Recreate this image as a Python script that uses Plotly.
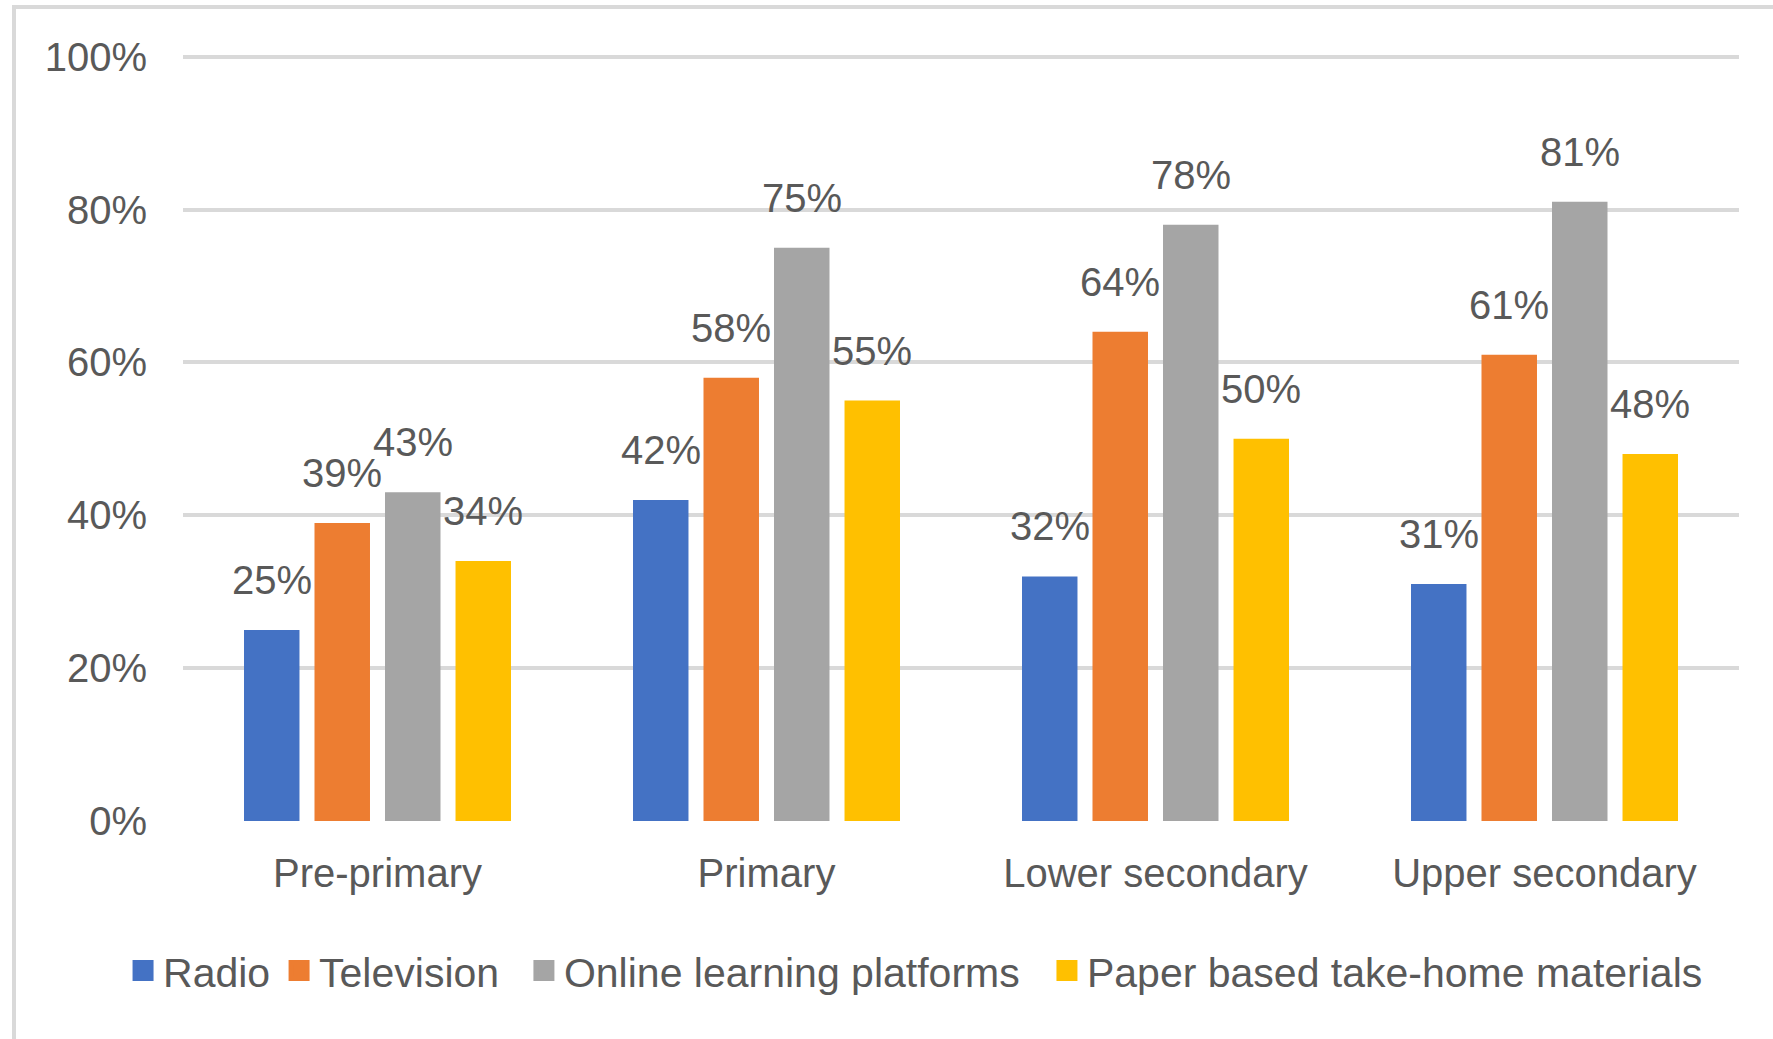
import plotly.graph_objects as go

# Share of countries using each remote-learning channel, by education level
levels = ["Pre-primary", "Primary", "Lower secondary", "Upper secondary"]
series_names = ["Radio", "Television", "Online learning platforms",
                "Paper based take-home materials"]
radio = [25, 42, 32, 31]
television = [39, 58, 64, 61]
online = [43, 75, 78, 81]
paper = [34, 55, 50, 48]
y_tick_values = [0, 20, 40, 60, 80, 100]
y_tick_labels = ["0%", "20%", "40%", "60%", "80%", "100%"]

series_values = [radio, television, online, paper]
colors = ["#4472C4", "#ED7D31", "#A5A5A5", "#FFC000"]

FONT = "Liberation Sans, Arial, sans-serif"
TEXT_COLOR = "#595959"
GRID_COLOR = "#D9D9D9"
FONT_SIZE = 40
LEGEND_FONT_SIZE = 41
BARGAP = 0.275
BARGROUPGAP = 0.213
# left edge (fraction of figure width) of each legend entry along the bottom row
LEGEND_X = [0.0694, 0.1574, 0.2955, 0.5905]

fig = go.Figure()

for name, vals, col in zip(series_names, series_values, colors):
    fig.add_trace(go.Bar(
        x=levels, y=vals, name=name, marker=dict(color=col, line=dict(width=0)),
        showlegend=False, hoverinfo="skip",
    ))

# legend entries with larger square swatches, one legend box per entry
legend_ids = ["legend", "legend2", "legend3", "legend4"]
for name, col, lid in zip(series_names, colors, legend_ids):
    fig.add_trace(go.Scatter(
        x=[None], y=[None], mode="markers", name=name, legend=lid,
        marker=dict(symbol="square", size=16, color=col,
                    line=dict(color=col, width=5)),
        showlegend=True,
    ))

# value labels above each bar
n_series = len(series_values)
slot = (1 - BARGAP) / n_series
annotations = []
for k, vals in enumerate(series_values):
    for i, v in enumerate(vals):
        annotations.append(dict(
            x=i + (k - (n_series - 1) / 2) * slot, y=v, xref="x", yref="y",
            text=f"{v}%", showarrow=False, yanchor="bottom", xanchor="center",
            yshift=26, font=dict(family=FONT, size=FONT_SIZE, color=TEXT_COLOR),
        ))

legend_style = dict(
    orientation="h", xref="container", yref="container",
    y=0.0655, xanchor="left", yanchor="middle",
    font=dict(family=FONT, size=LEGEND_FONT_SIZE, color=TEXT_COLOR),
    bgcolor="rgba(0,0,0,0)",
)

fig.update_layout(
    width=1773, height=1039,
    margin=dict(l=183, r=34, t=49, b=218),
    paper_bgcolor="white", plot_bgcolor="white",
    barmode="group", bargap=BARGAP, bargroupgap=BARGROUPGAP,
    font=dict(family=FONT, size=FONT_SIZE, color=TEXT_COLOR),
    annotations=annotations,
    shapes=[dict(
        type="rect", xref="paper", yref="paper",
        x0=(14 - 183) / 1556, x1=1.3, y0=(821 - 7) / 772, y1=-0.6,
        line=dict(color=GRID_COLOR, width=4), fillcolor="rgba(0,0,0,0)",
        layer="below",
    )],
)
fig.update_layout({lid: dict(legend_style, x=lx) for lid, lx in zip(legend_ids, LEGEND_X)})

fig.update_xaxes(
    showgrid=False, showline=False, zeroline=False, ticks="",
    ticklabelstandoff=25,
    tickfont=dict(family=FONT, size=FONT_SIZE, color=TEXT_COLOR),
)
fig.update_yaxes(
    range=[0, 101], tickvals=y_tick_values, ticktext=y_tick_labels,
    showgrid=True, gridcolor=GRID_COLOR, gridwidth=4,
    zeroline=False, showline=False, ticks="", ticklabelstandoff=35,
    tickfont=dict(family=FONT, size=FONT_SIZE, color=TEXT_COLOR),
)

fig.write_html("out.html")
